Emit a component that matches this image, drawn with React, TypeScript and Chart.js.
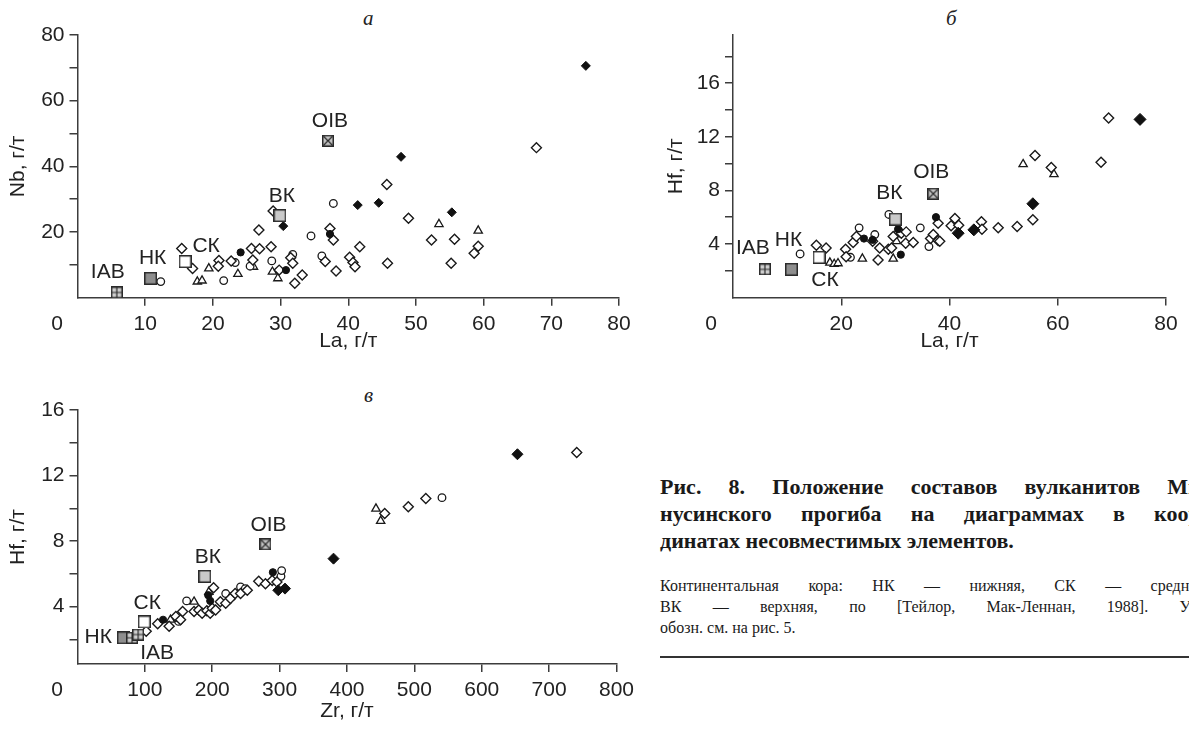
import React, { useEffect, useRef } from "react";
import { Chart, registerables } from "chart.js";
Chart.register(...registerables);

// ---------------- Panel а : La – Nb ----------------
const openDiamondA = [
  [15.4, 15.0], [17.0, 8.9], [20.9, 11.3], [20.8, 9.6], [22.7, 11.2], [25.7, 15.0], [26.9, 14.9],
  [26.8, 20.6], [28.6, 15.5], [25.9, 11.5], [28.9, 26.4], [29.8, 8.4], [31.5, 12.2], [31.8, 10.5],
  [32.1, 4.4], [33.2, 6.9], [37.3, 21.1], [37.8, 17.6], [36.6, 11.0], [38.2, 8.1], [40.2, 12.3],
  [40.7, 10.7], [41.0, 9.4], [41.7, 15.5], [45.8, 10.5], [45.7, 34.5], [48.9, 24.2], [52.3, 17.6],
  [55.7, 17.8], [55.2, 10.5], [59.2, 15.7], [58.6, 13.5], [67.8, 45.7],
];
const openCircleA = [
  [12.3, 4.9], [21.6, 5.2], [23.3, 10.7], [25.5, 9.6], [28.7, 11.2], [31.8, 13.2], [34.5, 18.8],
  [36.1, 12.7], [37.8, 28.7],
];
const triangleA = [
  [17.7, 4.9], [18.4, 5.2], [19.4, 8.9], [23.7, 7.2], [26.0, 9.4], [28.8, 7.9], [29.6, 5.9],
  [53.4, 22.4], [59.2, 20.4],
];
const filledCircleA = [[24.1, 13.8], [30.8, 8.4], [37.3, 19.4]];
const filledDiamondA = [[30.4, 21.8], [41.4, 28.2], [44.5, 28.9], [47.8, 42.9], [55.3, 26.0], [75.1, 70.6]];
const iabA = [[5.8, 1.6]];
const nkA = [[10.8, 5.9]];
const skA = [[15.9, 11.0]];
const vkA = [[29.9, 25.0]];
const oibA = [[37.0, 47.8]];

// ---------------- Panel б : La – Hf ----------------
const openDiamondB = [
  [15.4, 3.9], [17.2, 3.7], [20.8, 3.6], [20.9, 3.05], [22.2, 4.1], [22.8, 4.55], [25.8, 4.2],
  [27.1, 3.7], [26.8, 2.8], [28.7, 3.6], [29.6, 4.55], [29.3, 3.7], [31.1, 4.8], [32.0, 4.9],
  [31.9, 4.05], [33.3, 4.1], [36.5, 4.4], [37.9, 4.25], [37.0, 4.7], [38.2, 4.2], [37.9, 5.55],
  [41.0, 5.9], [40.3, 5.35], [41.7, 5.4], [45.9, 5.65], [46.0, 5.1], [49.0, 5.2], [52.5, 5.3],
  [55.4, 5.8], [55.8, 10.6], [58.8, 9.7], [68.0, 10.1], [69.4, 13.4],
];
const openCircleB = [[12.4, 3.25], [21.7, 3.0], [23.3, 5.2], [26.2, 4.7], [28.8, 6.2], [34.6, 5.2], [36.2, 3.8]];
const triangleB = [
  [17.9, 2.6], [18.7, 2.5], [19.4, 2.55], [23.9, 2.9], [29.6, 2.9], [30.1, 4.7], [30.2, 4.2],
  [53.6, 9.95], [59.3, 9.2],
];
const filledCircleB = [[24.2, 4.4], [25.8, 4.3], [31.0, 3.2], [30.5, 5.1], [37.5, 6.0]];
const filledDiamondB = [[41.6, 4.8], [44.5, 5.05], [55.4, 7.0], [75.2, 13.3]];
const iabB = [[5.9, 2.1]];
const nkB = [[10.8, 2.1]];
const skB = [[15.9, 3.0]];
const vkB = [[30.0, 5.85]];
const oibB = [[37.0, 7.75]];

// ---------------- Panel в : Zr – Hf ----------------
const openDiamondC = [
  [102, 2.5], [119, 2.95], [136, 2.8], [146, 3.4], [153, 3.2], [156, 3.7], [173, 3.7], [180, 3.8],
  [185, 3.6], [192, 3.75], [197, 3.6], [200, 3.9], [202, 5.15], [205, 3.8], [212, 4.3], [220, 4.2],
  [227, 4.5], [234, 4.8], [242, 4.8], [252, 5.0], [269, 5.55], [279, 5.4], [289, 5.6], [296, 5.5],
  [456, 9.68], [491, 10.1], [517, 10.6], [741, 13.4],
];
const openCircleC = [[150, 3.1], [162, 4.35], [220, 4.8], [229, 4.6], [242, 5.2], [249, 5.1], [302, 5.85], [303, 6.2], [541, 10.65]];
const triangleC = [[138, 3.2], [173, 4.3], [195, 4.9], [443, 9.98], [450, 9.23]];
const filledCircleC = [[127, 3.2], [194, 4.7], [197, 4.35], [290, 6.1]];
const filledDiamondC = [[298, 5.0], [308, 5.1], [380, 6.93], [653, 13.3]];
const iabC = [[81, 2.1], [90, 2.3]];
const nkC = [[68, 2.1]];
const skC = [[99, 3.07]];
const vkC = [[189, 5.85]];
const oibC = [[279, 7.8]];

// ---------------- tick labels / titles ----------------
const xLabelsA = [10, 20, 30, 40, 50, 60, 70, 80];
const yLabelsA = [20, 40, 60, 80];
const xLabelsB = [20, 40, 60, 80];
const yLabelsB = [4, 8, 12, 16];
const xLabelsC = [100, 200, 300, 400, 500, 600, 700, 800];
const yLabelsC = [4, 8, 12, 16];
const refNames = ["IAB", "НК", "СК", "ВК", "OIB"];

const SANS = "'Liberation Sans', Arial, sans-serif";
const SERIF = "'Liberation Serif', 'Times New Roman', serif";
const INK = "#222";
const AXIS = "#3c3c3c";

function squareMarker(size: number, fill: string, cross: "none" | "plus" | "x") {
  const c = document.createElement("canvas");
  c.width = size;
  c.height = size;
  const g = c.getContext("2d")!;
  g.fillStyle = fill;
  g.fillRect(0, 0, size, size);
  g.strokeStyle = "#2a2a2a";
  g.lineWidth = 1.5;
  g.strokeRect(0.75, 0.75, size - 1.5, size - 1.5);
  g.lineWidth = 1.2;
  g.beginPath();
  if (cross === "plus") {
    g.moveTo(size / 2, 1);
    g.lineTo(size / 2, size - 1);
    g.moveTo(1, size / 2);
    g.lineTo(size - 1, size / 2);
  } else if (cross === "x") {
    g.moveTo(1.5, 1.5);
    g.lineTo(size - 1.5, size - 1.5);
    g.moveTo(size - 1.5, 1.5);
    g.lineTo(1.5, size - 1.5);
  }
  g.stroke();
  return c;
}

const pts = (arr: number[][]) => arr.map(([x, y]) => ({ x, y }));

function seriesSet(od: number[][], oc: number[][], tr: number[][], fc: number[][], fd: number[][], fdR: number) {
  return [
    { data: pts(fd), pointStyle: "rectRot", pointRadius: fdR, backgroundColor: "#111", borderColor: "#111", borderWidth: 1 },
    { data: pts(fc), pointStyle: "circle", pointRadius: 3.6, backgroundColor: "#111", borderColor: "#111", borderWidth: 1 },
    { data: pts(od), pointStyle: "rectRot", pointRadius: 5, backgroundColor: "#fff", borderColor: "#1a1a1a", borderWidth: 1.4 },
    { data: pts(oc), pointStyle: "circle", pointRadius: 3.8, backgroundColor: "#fff", borderColor: "#1a1a1a", borderWidth: 1.3 },
    { data: pts(tr), pointStyle: "triangle", pointRadius: 4.8, backgroundColor: "#fff", borderColor: "#1a1a1a", borderWidth: 1.3 },
  ];
}

function refSet(refs: number[][][], offsets: number[][]) {
  const imgs = [
    squareMarker(12, "#cfcfcf", "plus"),
    squareMarker(13, "#8e8e8e", "none"),
    squareMarker(13, "#ffffff", "none"),
    squareMarker(13, "#cacaca", "none"),
    squareMarker(12, "#c4c4c4", "x"),
  ];
  return refs.map((r, i) => ({
    data: pts(r),
    pointStyle: imgs[i],
    pointRadius: 7,
    refLabel: refNames[i],
    refDx: offsets[i][0],
    refDy: offsets[i][1],
  }));
}

const refLabelPlugin = {
  id: "refLabels",
  afterDatasetsDraw(chart: any) {
    const ctx = chart.ctx;
    ctx.save();
    ctx.font = `21px ${SANS}`;
    ctx.fillStyle = INK;
    ctx.textAlign = "center";
    ctx.textBaseline = "middle";
    chart.data.datasets.forEach((ds: any, i: number) => {
      if (!ds.refLabel) return;
      const el = chart.getDatasetMeta(i).data[0];
      ctx.fillText(ds.refLabel, el.x + ds.refDx, el.y + ds.refDy);
    });
    ctx.restore();
  },
};

const originZeroPlugin = {
  id: "originZero",
  afterDraw(chart: any, _a: any, opts: any) {
    const ctx = chart.ctx;
    const x = chart.scales.x.getPixelForValue(chart.scales.x.min);
    const y = chart.scales.y.getPixelForValue(chart.scales.y.min);
    ctx.save();
    ctx.font = `21px ${SANS}`;
    ctx.fillStyle = INK;
    ctx.textAlign = "center";
    ctx.textBaseline = "middle";
    ctx.fillText("0", x + opts.dx, y + opts.dy);
    ctx.restore();
  },
};

type Spec = {
  left: number; top: number; width: number; height: number;
  area: { left: number; top: number; right: number; bottom: number };
  x: { min: number; max: number; step: number; labels: number[]; title: string; titleDist: number };
  y: { min: number; max: number; step: number; labels: number[]; title: string; titleX: number };
  zero: { dx: number; dy: number };
  datasets: any[];
};

function axisCommon(min: number, max: number, step: number, labels: number[]) {
  return {
    type: "linear",
    min,
    max,
    bounds: "data",
    ticks: {
      stepSize: step,
      includeBounds: false,
      autoSkip: false,
      maxRotation: 0,
      color: INK,
      font: { family: SANS, size: 21 },
      callback: (v: any) => (labels.includes(Number(v)) ? String(v) : ""),
    },
    grid: { display: true, drawOnChartArea: false, drawTicks: true, tickLength: 8, color: AXIS, lineWidth: 1.5 },
    border: { display: true, color: AXIS, width: 1.5 },
    afterBuildTicks: (s: any) => {
      const out: any[] = [];
      for (let k = Math.ceil(min / step); k * step <= max + 1e-9; k++) {
        const v = Math.round(k * step * 1000) / 1000;
        if (v > min) out.push({ value: v });
      }
      s.ticks = out;
    },
  };
}

function buildConfig(sp: Spec) {
  const xH = sp.height - sp.area.bottom;
  const yW = sp.area.left;
  const lh = 21 * 1.2;
  const xa: any = axisCommon(sp.x.min, sp.x.max, sp.x.step, sp.x.labels);
  xa.position = "bottom";
  xa.ticks.padding = 6;
  xa.title = { display: true, text: sp.x.title, color: INK, font: { family: SANS, size: 21 }, padding: { top: 0, bottom: xH - sp.x.titleDist - lh / 2 } };
  xa.afterFit = (s: any) => { s.height = xH; };
  const ya: any = axisCommon(sp.y.min, sp.y.max, sp.y.step, sp.y.labels);
  ya.position = "left";
  ya.ticks.padding = 5;
  ya.title = { display: true, text: sp.y.title, color: INK, font: { family: SANS, size: 21 }, padding: { top: sp.y.titleX - lh / 2, bottom: 0 } };
  ya.afterFit = (s: any) => { s.width = yW; };
  return {
    type: "scatter",
    data: { datasets: sp.datasets },
    options: {
      responsive: false,
      animation: false,
      events: [],
      layout: { padding: { left: 0, top: sp.area.top, right: sp.width - sp.area.right, bottom: 0 } },
      plugins: { legend: { display: false }, tooltip: { enabled: false }, originZero: sp.zero },
      scales: { x: xa, y: ya },
    },
    plugins: [refLabelPlugin, originZeroPlugin],
  } as any;
}

function Panel({ spec }: { spec: Spec }) {
  const ref = useRef<HTMLCanvasElement>(null);
  useEffect(() => {
    const chart = new Chart(ref.current!, buildConfig(spec));
    return () => chart.destroy();
  }, []);
  return (
    <canvas
      ref={ref}
      width={spec.width}
      height={spec.height}
      style={{ position: "absolute", left: spec.left, top: spec.top, width: spec.width, height: spec.height }}
    />
  );
}

const specA: Spec = {
  left: 0, top: 0, width: 640, height: 360,
  area: { left: 77.5, top: 35, right: 619, bottom: 297.7 },
  x: { min: 0, max: 80, step: 10, labels: xLabelsA, title: "La, г/т", titleDist: 44 },
  y: { min: 0, max: 80, step: 10, labels: yLabelsA, title: "Nb, г/т", titleX: 18 },
  zero: { dx: -20.5, dy: 26.5 },
  datasets: [
    ...refSet([iabA, nkA, skA, vkA, oibA], [[-9, -20], [2, -20], [21, -15], [2, -19], [2, -20]]),
    ...seriesSet(openDiamondA, openCircleA, triangleA, filledCircleA, filledDiamondA, 4.5),
  ],
};

const specB: Spec = {
  left: 640, top: 0, width: 549, height: 360,
  area: { left: 93, top: 35, right: 526, bottom: 297.5 },
  x: { min: 0, max: 80, step: 20, labels: xLabelsB, title: "La, г/т", titleDist: 44 },
  y: { min: 0, max: 19.6, step: 2, labels: yLabelsB, title: "Hf, г/т", titleX: 36 },
  zero: { dx: -22, dy: 26.5 },
  datasets: [
    ...refSet([iabB, nkB, skB, vkB, oibB], [[-12, -21], [-3, -29], [6, 23], [-6, -26], [-2, -22]]),
    ...seriesSet(openDiamondB, openCircleB, triangleB, filledCircleB, filledDiamondB, 6),
  ],
};

const specC: Spec = {
  left: 0, top: 380, width: 640, height: 351,
  area: { left: 77.5, top: 30, right: 619, bottom: 284 },
  x: { min: 0, max: 800, step: 100, labels: xLabelsC, title: "Zr, г/т", titleDist: 47 },
  y: { min: 0.5, max: 16, step: 2, labels: yLabelsC, title: "Hf, г/т", titleX: 18 },
  zero: { dx: -20.5, dy: 26.5 },
  datasets: [
    ...refSet([iabC, nkC, skC, vkC, oibC], [[25, 15], [-25, -1], [3, -19], [3, -19], [3, -19]]),
    ...seriesSet(openDiamondC, openCircleC, triangleC, filledCircleC, filledDiamondC, 5.5),
  ],
};

const captionTitle = [
  "Рис. 8. Положение составов вулканитов Ми-",
  "нусинского прогиба на диаграммах в коор-",
  "динатах несовместимых элементов.",
];
const captionNote = [
  "Континентальная кора: НК — нижняя, СК — средняя,",
  "ВК — верхняя, по [Тейлор, Мак-Леннан, 1988]. Усл.",
  "обозн. см. на рис. 5.",
];

const panelLetter = (t: string, left: number, top: number) => (
  <div style={{ position: "absolute", left, top, fontFamily: SERIF, fontStyle: "italic", fontSize: 21, color: INK, lineHeight: "24px" }}>{t}</div>
);

export default function App() {
  const justified = (last: boolean): React.CSSProperties => ({
    textAlign: "justify",
    textAlignLast: last ? "left" : "justify",
    whiteSpace: "normal",
  } as any);
  return (
    <div style={{ position: "fixed", left: 0, top: 0, width: 1189, height: 731, overflow: "hidden", background: "#fff" }}>
      {panelLetter("а", 363, 6)}
      {panelLetter("б", 946, 6)}
      {panelLetter("в", 364, 383)}
      <Panel spec={specA} />
      <Panel spec={specB} />
      <Panel spec={specC} />
      <div style={{ position: "absolute", left: 660, top: 473, width: 548, fontFamily: SERIF, fontWeight: "bold", fontSize: 22, lineHeight: "27px", color: "#1a1a1a" }}>
        {captionTitle.map((l, i) => (
          <div key={i} style={justified(i === captionTitle.length - 1)}>{l}</div>
        ))}
      </div>
      <div style={{ position: "absolute", left: 660, top: 575, width: 548, fontFamily: SERIF, fontSize: 16, lineHeight: "21px", color: "#1a1a1a" }}>
        {captionNote.map((l, i) => (
          <div key={i} style={justified(i === captionNote.length - 1)}>{l}</div>
        ))}
      </div>
      <div style={{ position: "absolute", left: 660, top: 656, width: 540, height: 1.5, background: "#333" }} />
    </div>
  );
}
